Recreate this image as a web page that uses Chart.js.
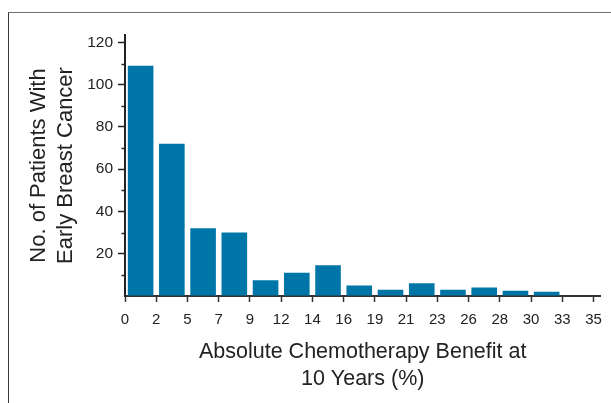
<!DOCTYPE html>
<html>
<head>
<meta charset="utf-8">
<script src="https://cdn.jsdelivr.net/npm/chart.js@4/dist/chart.umd.min.js"></script>
<style>
  html, body { margin: 0; padding: 0; background: #fff; }
  #wrap { position: relative; width: 611px; height: 403px; overflow: hidden; }
  #frame {
    position: absolute; left: 8px; top: 12px; width: 700px; height: 500px;
    border-left: 1.5px solid #3a3a3a; border-top: 1.5px solid #707070;
  }
  canvas { position: absolute; left: 0; top: 0; }
</style>
</head>
<body>
<div id="wrap">
  <div id="frame"></div>
  <canvas id="c" width="611" height="403"></canvas>
</div>
<script>
// Histogram bins of absolute 10-year chemotherapy benefit (%)
const binEdgeLabels = ['0', '2', '5', '7', '9', '12', '14', '16', '19', '21', '23', '26', '28', '30', '33', '35'];
const patientCounts = [109, 72, 32, 30, 7.5, 11, 14.5, 5, 3, 6, 3, 4, 2.5, 2, 0];
const yMajorStep = 20;
const yMinorStep = 10;
const yAxisTitle = ['No. of Patients With', 'Early Breast Cancer'];
const xAxisTitle = ['Absolute Chemotherapy Benefit at', '10 Years (%)'];

const textFont = '"Liberation Sans", Arial, Helvetica, sans-serif';
const barColor = '#0076a8';
const axisColor = '#222222';

// Short minor ticks on the y axis between the labelled values
const minorTicks = {
  id: 'minorTicks',
  afterDraw(chart) {
    const y = chart.scales.y;
    const ctx = chart.ctx;
    ctx.save();
    ctx.strokeStyle = axisColor;
    ctx.lineWidth = 1.5;
    for (let v = yMinorStep; v <= y.max; v += yMajorStep) {
      const py = Math.round(y.getPixelForValue(v)) + 0.5;
      ctx.beginPath();
      ctx.moveTo(y.right - 3.5, py);
      ctx.lineTo(y.right, py);
      ctx.stroke();
    }
    ctx.restore();
  }
};

new Chart(document.getElementById('c'), {
  type: 'bar',
  data: {
    datasets: [{
      data: patientCounts.map((v, i) => ({ x: i + 0.5, y: v })),
      backgroundColor: barColor,
      borderWidth: 0,
      barPercentage: 0.82,
      categoryPercentage: 1
    }]
  },
  options: {
    responsive: false,
    animation: false,
    events: [],
    layout: { padding: { left: 10, top: 35, right: 9, bottom: 10 } },
    plugins: {
      legend: { display: false },
      tooltip: { enabled: false }
    },
    scales: {
      x: {
        type: 'linear',
        min: 0,
        max: 15.22,
        offset: false,
        afterFit: s => { s.height = 97; },
        grid: {
          offset: false,
          drawOnChartArea: false,
          drawTicks: true,
          tickLength: 6,
          tickWidth: 1.5,
          tickColor: '#333'
        },
        border: { display: true, color: '#333', width: 2 },
        ticks: {
          stepSize: 1,
          includeBounds: false,
          autoSkip: false,
          maxRotation: 0,
          padding: 9,
          color: axisColor,
          font: { family: textFont, size: 15 },
          callback: v => binEdgeLabels[v] ?? ''
        },
        title: {
          display: true,
          text: xAxisTitle,
          color: axisColor,
          font: { family: textFont, size: 21.5, lineHeight: '27px' },
          padding: { top: 0, bottom: 0 }
        }
      },
      y: {
        type: 'linear',
        min: 0,
        max: 123.5,
        afterFit: s => { s.width = 115; },
        grid: {
          drawOnChartArea: false,
          drawTicks: true,
          tickLength: 7,
          tickWidth: 1.5,
          tickColor: c => (c.tick && c.tick.value > 0 && c.tick.value % yMajorStep === 0) ? axisColor : 'rgba(0,0,0,0)'
        },
        border: { display: true, color: axisColor, width: 2 },
        ticks: {
          stepSize: yMinorStep,
          includeBounds: false,
          autoSkip: false,
          padding: 5,
          color: axisColor,
          font: { family: textFont, size: 15.5 },
          callback: v => (v > 0 && v % yMajorStep === 0) ? String(v) : ''
        },
        title: {
          display: true,
          text: yAxisTitle,
          color: axisColor,
          font: { family: textFont, size: 22, lineHeight: '27px' },
          padding: { top: 15.5, bottom: 0 }
        }
      }
    }
  },
  plugins: [minorTicks]
});
</script>
</body>
</html>
